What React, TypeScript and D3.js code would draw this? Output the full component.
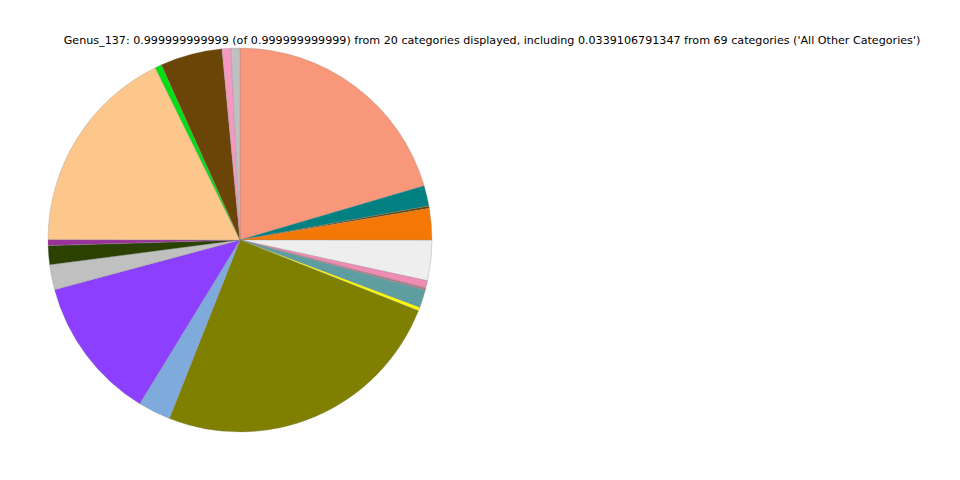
import React from "react";
import * as d3 from "d3";

const categories = [
  "Genus_A", "Genus_B", "Genus_C", "Genus_D", "All Other Categories", "Genus_F",
  "Genus_G", "Genus_H", "Genus_I", "Genus_J", "Genus_K", "Genus_L", "Genus_M",
  "Genus_N", "Genus_O", "Genus_P", "Genus_Q", "Genus_R", "Genus_S", "Genus_T",
];
const values = [
  0.2045, 0.0172, 0.002, 0.0267, 0.0339106791347, 0.006, 0.002, 0.015, 0.003, 0.25,
  0.0275, 0.121, 0.021, 0.016, 0.005, 0.177, 0.0056, 0.0522, 0.0075, 0.0075,
];
const colors = [
  "#f9977a", "#008080", "#6b4308", "#f47806", "#eeeeee", "#f08cb4",
  "#b47a88", "#5f9ea0", "#ffff00", "#808000", "#7eaadc", "#8c3fff", "#c0c0c0",
  "#2b4100", "#993399", "#fdc68a", "#00e010", "#6b4408", "#f49ac2", "#c0c0c0",
];
const title =
  "Genus_137: 0.999999999999 (of 0.999999999999) from 20 categories displayed, including 0.0339106791347 from 69 categories ('All Other Categories')";

export default function App() {
  const width = 960;
  const height = 480;
  const cx = 240;
  const cy = 240;
  const r = 192;
  const data = categories.map((c, i) => ({ c, v: values[i], color: colors[i] }));
  const pie = d3
    .pie<{ c: string; v: number; color: string }>()
    .value((d) => d.v)
    .sort(null)
    .startAngle(0)
    .endAngle(2 * Math.PI);
  const arc = d3
    .arc<d3.PieArcDatum<{ c: string; v: number; color: string }>>()
    .innerRadius(0)
    .outerRadius(r);
  const arcs = pie(data);
  return (
    <svg
      width={width}
      height={height}
      style={{ position: "absolute", left: 0, top: 0, background: "#fff" }}
    >
      <g transform={`translate(${cx},${cy})`}>
        {arcs.map((a, i) => (
          <path
            key={i}
            d={arc(a) || ""}
            fill={a.data.color}
            stroke="#888"
            strokeWidth={0.3}
          />
        ))}
      </g>
      <text
        x={492}
        y={44}
        textAnchor="middle"
        fontFamily="DejaVu Sans"
        fontSize={11.13}
        fill="#000"
      >
        {title}
      </text>
    </svg>
  );
}
